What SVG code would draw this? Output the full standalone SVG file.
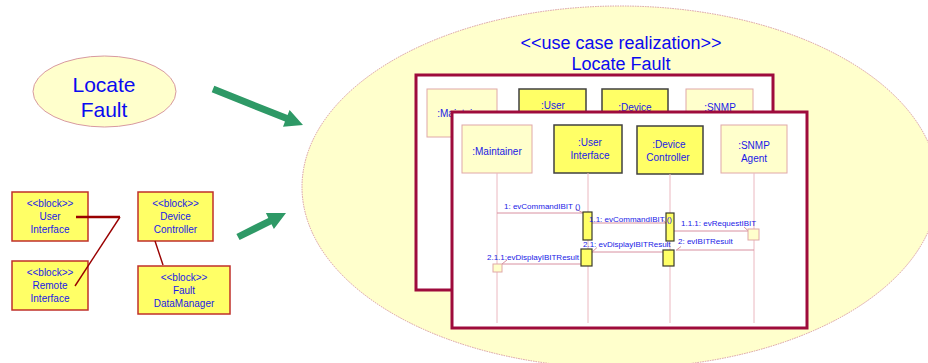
<svg xmlns="http://www.w3.org/2000/svg" width="928" height="363" viewBox="0 0 928 363">
  <style>
    text { font-family: "Liberation Sans", Arial, sans-serif; fill: #1a1ae6; }
    .uc { fill: #ffffcc; stroke: #d89aa0; stroke-width: 1; stroke-dasharray: 1.5 1; }
    .blk { fill: #ffff66; stroke: #c0302a; stroke-width: 1.5; }
    .blk-t { font-size: 10px; text-anchor: middle; }
    .frame { fill: #ffffff; stroke: #9e0b3c; stroke-width: 3; }
    .ll-soft { fill: #ffffcc; stroke: #e0a8a8; stroke-width: 1; }
    .ll-hard { fill: #ffff66; stroke: #404040; stroke-width: 1.5; }
    .ll-t { font-size: 10px; text-anchor: middle; }
    .lifeline { stroke: #ebb8c0; stroke-width: 1; fill: none; }
    .act { fill: #ffff66; stroke: #3a3a2a; stroke-width: 1.2; }
    .msg { stroke: #d890a0; stroke-width: 1; fill: none; }
    .msg-t { font-size: 8px; }
    .big { font-size: 18px; text-anchor: middle; fill: #0a0af0; }
    .flow { fill: #2e9966; }
    .assoc { stroke: #990000; fill: none; }
  </style>

  <!-- use case realization bubble -->
  <g id="realization">
    <ellipse class="uc" cx="620" cy="187" rx="318" ry="181"/>
    <text class="big" x="621" y="49">&lt;&lt;use case realization&gt;&gt;</text>
    <text class="big" x="621" y="70">Locate Fault</text>
  </g>

  <!-- use case -->
  <g id="usecase">
    <ellipse class="uc" cx="104.5" cy="91.5" rx="71.5" ry="35.5" style="stroke-dasharray:none"/>
    <text x="104" y="92" style="font-size:21px;text-anchor:middle;fill:#0a0af0">Locate</text>
    <text x="104" y="117" style="font-size:21px;text-anchor:middle;fill:#0a0af0">Fault</text>
  </g>

  <!-- block structure -->
  <g id="blk-ui">
    <rect class="blk" x="12" y="192" width="76" height="49"/>
    <text class="blk-t" x="50" y="207">&lt;&lt;block&gt;&gt;</text>
    <text class="blk-t" x="50" y="220">User</text>
    <text class="blk-t" x="50" y="233">Interface</text>
  </g>
  <g id="blk-ri">
    <rect class="blk" x="12" y="261" width="76" height="49"/>
    <text class="blk-t" x="50" y="276">&lt;&lt;block&gt;&gt;</text>
    <text class="blk-t" x="50" y="289">Remote</text>
    <text class="blk-t" x="50" y="302">Interface</text>
  </g>
  <g id="blk-dc">
    <rect class="blk" x="138" y="192" width="75" height="49"/>
    <text class="blk-t" x="175.5" y="207">&lt;&lt;block&gt;&gt;</text>
    <text class="blk-t" x="175.5" y="220">Device</text>
    <text class="blk-t" x="175.5" y="233">Controller</text>
  </g>
  <g id="blk-fdm">
    <rect class="blk" x="138" y="266" width="92" height="48"/>
    <text class="blk-t" x="184" y="281">&lt;&lt;block&gt;&gt;</text>
    <text class="blk-t" x="184" y="294">Fault</text>
    <text class="blk-t" x="184" y="307">DataManager</text>
  </g>

  <!-- back sequence frame -->
  <g id="seq-back">
    <rect class="frame" x="416" y="75" width="357" height="215"/>
    <rect class="ll-soft" x="427" y="89" width="70" height="48"/>
    <text class="ll-t" x="462" y="117">:Maintainer</text>
    <rect class="ll-hard" x="519" y="89" width="67" height="48"/>
    <text class="ll-t" x="553" y="109">:User</text>
    <rect class="ll-hard" x="602" y="89" width="66" height="48"/>
    <text class="ll-t" x="635" y="111">:Device</text>
    <rect class="ll-soft" x="686" y="89" width="67" height="48"/>
    <text class="ll-t" x="720" y="111">:SNMP</text>
  </g>

  <!-- front sequence frame -->
  <g id="seq-front">
    <rect class="frame" x="452" y="112" width="355" height="216"/>
  </g>
  <g id="ll-maintainer">
    <rect class="ll-soft" x="462" y="125" width="70" height="48"/>
    <text class="ll-t" x="497" y="155">:Maintainer</text>
  </g>
  <g id="ll-ui">
    <rect class="ll-hard" x="554" y="125" width="68" height="48"/>
    <text class="ll-t" x="590" y="146">:User</text>
    <text class="ll-t" x="590" y="159">Interface</text>
  </g>
  <g id="ll-dc">
    <rect class="ll-hard" x="637" y="126" width="66" height="48"/>
    <text class="ll-t" x="669" y="148">:Device</text>
    <text class="ll-t" x="668" y="161">Controller</text>
  </g>
  <g id="ll-snmp">
    <rect class="ll-soft" x="721" y="125" width="66" height="48"/>
    <text class="ll-t" x="754" y="149">:SNMP</text>
    <text class="ll-t" x="754" y="162">Agent</text>
  </g>

  <!-- connectors -->
  <g id="connectors">
    <!-- block associations -->
    <path class="assoc" stroke-width="2.5" d="M76 217 H120"/>
    <path class="assoc" stroke-width="1.4" d="M120 217 L75 286"/>
    <path class="assoc" stroke-width="1.4" d="M155 241 L163 265"/>

    <!-- flow arrows -->
    <polygon class="flow" points="214.3,85.8 287.6,115.1 289.6,109.9 303,125 283,126.7 285,121.6 211.7,92.3"/>
    <polygon class="flow" points="236.4,233.9 268.3,217.9 265.9,213 286,213 273.9,229.1 271.5,224.2 239.6,240.1"/>

    <!-- lifelines -->
    <path class="lifeline" d="M497 173 V323 M588 173 V323 M670 174 V323 M754 173 V323"/>

    <!-- messages -->
    <path class="msg" d="M497 213 H583 M576 209 L583 213"/>
    <path class="msg" d="M592 223 H666 M661.5 219.3 L666 223"/>
    <path class="msg" d="M674 231 H748 M744 227 L748.5 231"/>
    <path class="msg" d="M754 250 H676 M681 246.5 L676.5 250"/>
    <path class="msg" d="M663 252 H592 M597 247.5 L592.5 251.7"/>
    <path class="msg" d="M581 264 H502 M507 260 L502 264"/>

    <!-- activations -->
    <rect class="act" x="583" y="212" width="9" height="28"/>
    <rect class="act" x="666" y="213" width="8" height="28"/>
    <rect class="ll-soft" x="748" y="229" width="11" height="11"/>
    <rect class="act" x="663" y="250" width="11" height="16"/>
    <rect class="act" x="581" y="249" width="11" height="17"/>
    <rect class="ll-soft" x="493" y="264" width="9" height="8"/>

    <!-- message labels -->
    <text class="msg-t" x="504" y="209">1: evCommandIBIT ()</text>
    <text class="msg-t" x="589" y="222">1.1: evCommandIBIT ()</text>
    <text class="msg-t" x="681" y="226">1.1.1: evRequestIBIT</text>
    <text class="msg-t" x="678" y="244">2: evIBITResult</text>
    <text class="msg-t" x="583" y="247">2.1: evDisplayIBITResult</text>
    <text class="msg-t" x="487" y="260">2.1.1:evDisplayIBITResult</text>
  </g>
</svg>
